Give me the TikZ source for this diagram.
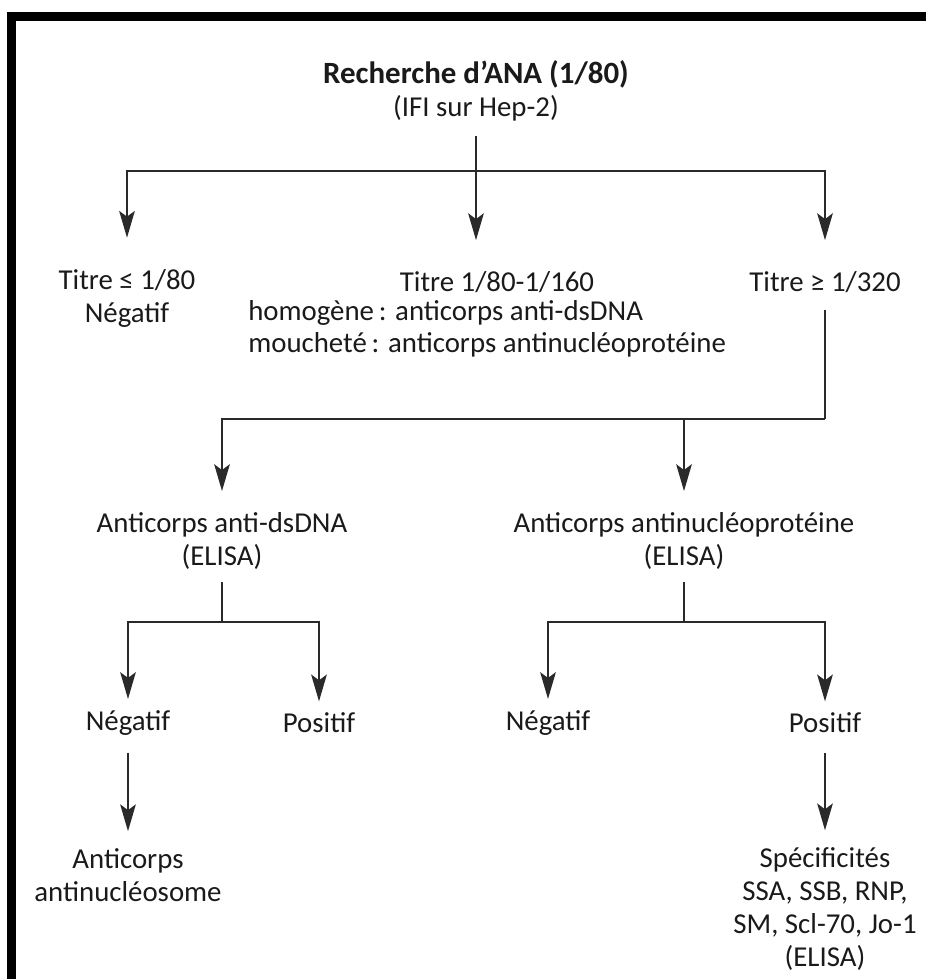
\documentclass[tikz,border=0pt]{standalone}
\usepackage{fontspec}
\setmainfont{Carlito}
\usepackage{tikz}
\usetikzlibrary{calc,arrows.meta}
\definecolor{ink}{HTML}{1A1A1A}
\definecolor{rule}{HTML}{2A2A2A}
\tikzset{
  frame/.style={draw=black, line width=6pt, line join=miter},
  link/.style={draw=rule, line width=2pt, line cap=butt, line join=miter},
  arr/.style={link, -{Stealth[length=19pt, width=11pt, inset=4pt]}},
  lab/.style={text=ink, font=\fontsize{20.5}{23.5}\selectfont, align=center, inner sep=0pt},
  labl/.style={lab, anchor=west, align=left}
}
\begin{document}
\begin{tikzpicture}[x=0.025cm, y=-0.025cm]
  \useasboundingbox (0,0) rectangle (926,979);
  \draw[frame] (11.5,979) -- (11.5,16.5) -- (926,16.5);
  \node[lab] (ana) at (476,91) {{\fontsize{22}{23.5}\selectfont\bfseries Recherche d’ANA (1/80)}\\(IFI sur Hep-2)};
  \node[lab] (t1) at (127,298) {Titre ≤ 1/80\\Négatif};
  \node[lab] (t2) at (497,282) {Titre 1/80-1/160};
  \node[labl] (homo) at (248,313) {homogène\,: anticorps anti-dsDNA};
  \node[labl] (mouch) at (248,345) {moucheté\,: anticorps antinucléoprotéine};
  \node[lab] (t3) at (825,282) {Titre ≥ 1/320};
  \node[lab] (dna) at (222,541) {Anticorps anti-dsDNA\\(ELISA)};
  \node[lab] (nuc) at (684,541) {Anticorps antinucléoprotéine\\(ELISA)};
  \node[lab] (neg1) at (128,723) {Négatif};
  \node[lab] (pos1) at (319,723) {Positif};
  \node[lab] (neg2) at (548,723) {Négatif};
  \node[lab] (pos2) at (825,723) {Positif};
  \node[lab] (nucleo) at (128,875) {Anticorps\\antinucléosome};
  \node[lab] (spec) at (825,909) {Spécificités\\SSA, SSB, RNP,\\SM, Scl-70, Jo-1\\(ELISA)};
  \coordinate (b0) at (476,171);
  \coordinate (b1) at (825,419);
  \coordinate (b2) at (684,419);
  \coordinate (b3) at (222,622);
  \coordinate (b4) at (684,622);
  \draw[link, shorten <=10pt] (ana.south) -- (b0);
  \draw[arr, shorten >=22pt] (b0) -| (t1.north);
  \draw[arr, shorten >=22pt] (b0) -- (b0 |- t2.north);
  \draw[arr, shorten >=22pt] (b0) -| (t3.north);
  \draw[link, shorten <=12pt] (t3.south) -- (b1);
  \draw[arr, shorten >=15pt] (b1) -| (dna.north);
  \draw[arr, shorten >=15pt] (b2) -- (nuc.north);
  \draw[link, shorten <=9pt] (dna.south) -- (b3);
  \draw[arr, shorten >=8pt] (b3) -| (neg1.north);
  \draw[arr, shorten >=8pt] (b3) -| (pos1.north);
  \draw[link, shorten <=9pt] (nuc.south) -- (b4);
  \draw[arr, shorten >=8pt] (b4) -| (neg2.north);
  \draw[arr, shorten >=8pt] (b4) -| (pos2.north);
  \draw[arr, shorten <=12pt, shorten >=12pt] (neg1) -- (nucleo);
  \draw[arr, shorten <=14pt, shorten >=12pt] (pos2) -- (spec);
\end{tikzpicture}
\end{document}
